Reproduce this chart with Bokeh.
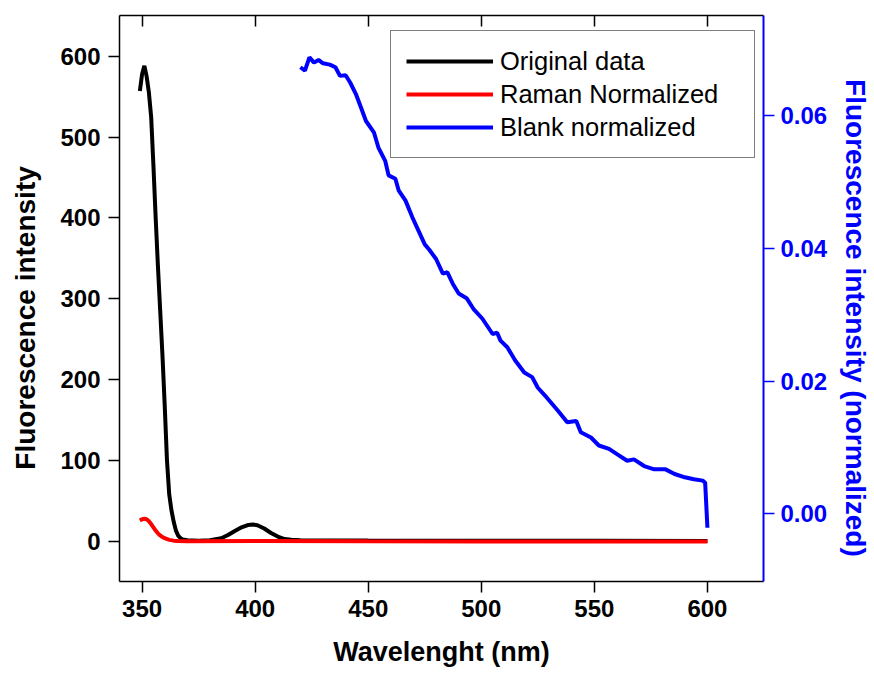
from bokeh.plotting import figure
from bokeh.models import Range1d, LinearAxis, FixedTicker, Legend, LegendItem, PrintfTickFormatter
from bokeh.embed import file_html
from bokeh.resources import INLINE

# ---------------- data ----------------
orig_wl = [349, 350, 351, 352, 353, 354, 355, 356, 357, 358, 359, 360, 361, 362, 363,
           364, 365, 366, 367, 368, 370, 375, 380, 385, 388, 391, 394, 397, 399, 401,
           404, 407, 410, 413, 416, 420, 450, 500, 550, 600]
orig_val = [557, 578, 588, 575, 555, 525, 465, 400, 340, 285, 230, 168, 100, 58, 38,
            24, 13, 7, 4, 2.5, 1.5, 1, 1.5, 4, 8, 13, 17.5, 20.5, 21, 20,
            16, 10.5, 6, 3, 2, 1.5, 1.2, 1, 0.8, 0.5]

raman_wl = [349, 350, 351, 352, 353, 354, 355, 356, 357, 358, 359, 360, 362, 364, 366,
            370, 400, 450, 500, 550, 600]
raman_val = [26, 27.5, 28, 27.5, 25, 21.5, 17.5, 13.5, 10, 7.5, 5.5, 4, 2, 1, 0.5,
             0.3, 0.5, 0.2, 0.1, 0, 0]

blank_wl = [420, 422, 424, 426, 428, 430, 433, 435.5, 437.5, 440, 442, 444.5, 446.5, 449,
            452.5, 454.5, 457.5, 459, 462, 463.5, 466.5, 469.5, 471.5, 475, 477, 480,
            483, 485, 487.5, 490, 493.5, 496.5, 500.5, 505, 507, 508.5, 511.5, 515, 519,
            522.5, 525, 529, 534, 538, 542, 544, 548.5, 552, 556.5, 560, 564.5, 567.5,
            572, 576.5, 581.5, 585.5, 590, 594, 598, 599, 600]
blank_val = [0.0673, 0.0668, 0.0688, 0.0680, 0.0684, 0.0679, 0.0677, 0.0673, 0.0660,
             0.0661, 0.0650, 0.0633, 0.0615, 0.0592, 0.0575, 0.0552, 0.0532, 0.0510,
             0.0505, 0.0487, 0.0472, 0.0447, 0.0432, 0.0406, 0.0398, 0.0384, 0.0362,
             0.0364, 0.0346, 0.0332, 0.0325, 0.0309, 0.0294, 0.0271, 0.0273, 0.0261,
             0.0251, 0.0231, 0.0213, 0.0206, 0.0190, 0.0175, 0.0155, 0.0138, 0.0140,
             0.0123, 0.0115, 0.0103, 0.0098, 0.0090, 0.0080, 0.0082, 0.0072, 0.0067,
             0.0067, 0.0060, 0.0055, 0.0052, 0.0050, 0.0047, -0.0021]

x_ticks = [350, 400, 450, 500, 550, 600]
y_ticks = [0, 100, 200, 300, 400, 500, 600]
y2_ticks = [0.00, 0.02, 0.04, 0.06]

FONT = "Liberation Sans"
NB = "\u00a0" * 5

p = figure(width=874, height=677, output_backend="svg", toolbar_location=None,
           x_range=Range1d(340, 624.8), y_range=Range1d(-49.5, 650.3),
           min_border_left=119, min_border_right=111, min_border_top=15,
           min_border_bottom=96)
p.extra_y_ranges = {"norm": Range1d(-0.0102, 0.0751)}
p.outline_line_color = None
p.xgrid.visible = False
p.ygrid.visible = False
p.background_fill_color = "white"
p.border_fill_color = "white"


def style_axis(ax, color, title_size, label_standoff, title_standoff):
    ax.axis_label_text_font = FONT
    ax.axis_label_text_font_style = "bold"
    ax.axis_label_text_font_size = title_size
    ax.axis_label_text_color = color
    ax.axis_label_standoff = title_standoff
    ax.major_label_text_font = FONT
    ax.major_label_text_font_style = "bold"
    ax.major_label_text_font_size = "24px"
    ax.major_label_text_color = color
    ax.major_label_standoff = label_standoff
    ax.major_tick_out = 11
    ax.major_tick_in = 0
    ax.minor_tick_line_color = None
    ax.axis_line_color = color
    ax.major_tick_line_color = color
    ax.axis_line_width = 1.5
    ax.major_tick_line_width = 1.5


# bottom axis
xa = p.xaxis[0]
xa.ticker = FixedTicker(ticks=x_ticks)
xa.axis_label = "Wavelenght (nm)"
style_axis(xa, "black", "27px", 7, 17)

# left axis
ya = p.yaxis[0]
ya.ticker = FixedTicker(ticks=y_ticks)
ya.axis_label = "Fluorescence intensity" + NB
style_axis(ya, "black", "28px", 8, 16)

# top axis: inward ticks only (as minor ticks, so no labels)
ta = LinearAxis(ticker=FixedTicker(ticks=[], minor_ticks=x_ticks),
                major_tick_in=0, major_tick_out=0, major_label_standoff=0,
                minor_tick_in=11, minor_tick_out=0, minor_tick_line_color="black",
                minor_tick_line_width=1.5, axis_line_width=1.5, axis_line_color="black")
p.add_layout(ta, "above")

# right axis (blue)
ra = LinearAxis(y_range_name="norm", ticker=FixedTicker(ticks=y2_ticks),
                formatter=PrintfTickFormatter(format="%.2f"))
ra.axis_label = NB + "Fluorescence intensity (normalized)"
style_axis(ra, "#0000FF", "28px", 6, 10)
ra.axis_line_width = 2
p.add_layout(ra, "right")

r_orig = p.line(orig_wl, orig_val, line_color="black", line_width=4)
r_raman = p.line(raman_wl, raman_val, line_color="#FF0000", line_width=4)
r_blank = p.line(blank_wl, blank_val, line_color="#0000FF", line_width=4,
                 y_range_name="norm")

legend = Legend(items=[LegendItem(label="Original data", renderers=[r_orig]),
                       LegendItem(label="Raman Normalized", renderers=[r_raman]),
                       LegendItem(label="Blank normalized", renderers=[r_blank])],
                location=(271, 423))
legend.border_line_color = "black"
legend.border_line_width = 1.5
legend.background_fill_color = "white"
legend.background_fill_alpha = 1
legend.padding = 15
legend.spacing = 3
legend.glyph_width = 87
legend.glyph_height = 30
legend.label_height = 30
legend.label_width = 239
legend.label_standoff = 7
legend.label_text_font = FONT
legend.label_text_font_size = "25.5px"
legend.label_text_color = "black"
legend.margin = 0
p.add_layout(legend, "center")

open("out.html", "w").write(file_html(p, INLINE))
